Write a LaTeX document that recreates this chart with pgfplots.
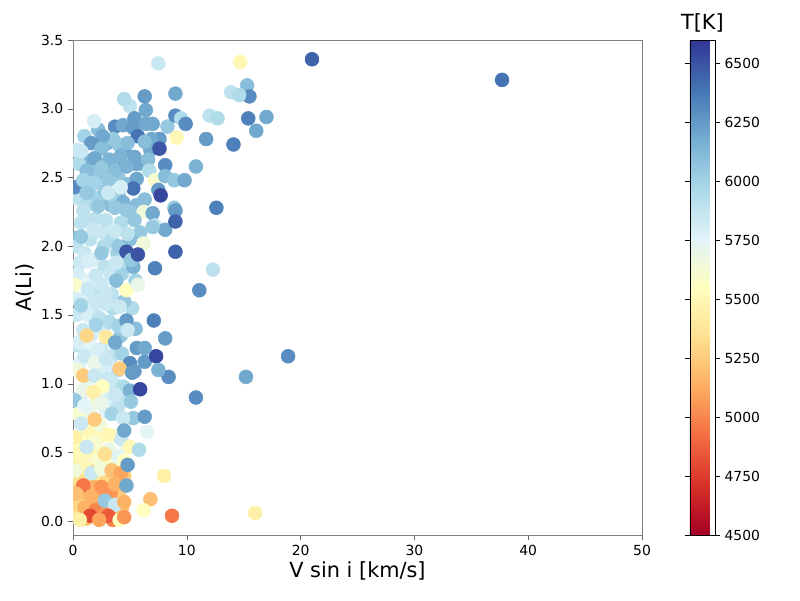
\documentclass[border=0pt]{standalone}
\usepackage{fontspec}
\setmainfont{DejaVu Sans}
\usepackage{pgfplots}
\pgfplotsset{compat=1.18}
\pgfplotsset{/pgf/number format/assume math mode=true}
\pgfplotstableread{
x y T
1.4 2.62 6150
2.9 2.52 6100
3.9 2.62 6200
4.5 2.70 6250
2.4 2.35 6000
3.3 2.30 6100
4.0 2.38 6050
1.7 2.36 6000
0.6 2.42 5950
2.7 2.00 5950
1.5 2.05 5900
3.9 1.95 6000
4.5 1.90 5950
0.6 1.88 5850
2.2 1.65 5900
3.5 1.55 5950
1.0 1.62 5800
0.2 1.62 5800
1.8 1.52 5850
2.7 1.40 5800
3.4 1.20 5900
4.2 1.35 6050
0.2 1.28 5900
1.6 1.35 5800
0.6 1.15 5750
2.3 1.15 5700
3.2 0.96 5700
4.0 1.10 5950
0.6 0.90 5800
2.1 0.88 5650
3.0 0.88 5800
4.6 0.88 5900
1.5 0.80 5700
2.6 0.62 5500
3.6 0.62 5600
0.9 0.62 5650
4.6 0.56 5700
0.2 0.52 5500
1.6 0.65 5500
3.0 0.42 5500
2.0 0.55 5600
0.7 0.40 5450
1.3 0.45 5700
4.0 0.30 5300
3.2 0.28 5250
2.6 0.12 5100
1.3 0.30 5100
0.2 0.30 5300
0.9 0.16 5250
1.8 0.12 5100
3.2 0.12 5150
4.2 0.24 5200
0.1 0.07 5400
1.2 0.02 5200
3.5 0.01 5000
2.0 0.38 5300
2.8 0.30 5150
4.5 0.33 5250
5.2 1.55 5950
5.5 1.75 6000
5.9 2.10 6050
5.6 2.30 6100
6.0 2.60 6150
6.8 2.70 6200
0.3 2.70 5850
1.0 2.80 6000
2.2 2.85 6100
3.0 2.75 6150
2.0 2.55 6050
3.3 2.60 6100
4.0 2.50 6050
4.8 2.45 6100
5.5 2.60 6200
0.5 2.60 5950
1.5 2.45 6000
2.8 2.40 6050
3.6 2.35 6000
4.4 2.32 6150
5.0 2.25 6050
0.3 2.35 5900
1.2 2.30 5950
2.0 2.20 5900
2.6 2.10 5850
3.4 2.05 5950
4.0 2.00 6050
5.0 2.05 6100
0.1 2.06 6150
0.3 2.00 5900
1.0 1.95 5850
1.8 1.90 5800
2.8 1.85 5900
3.3 1.80 5850
4.3 1.80 6000
5.3 1.85 6150
0.4 1.80 5800
1.3 1.75 5750
2.5 1.72 5850
3.4 1.65 5900
4.5 1.60 6050
0.3 1.50 5850
1.3 1.50 5800
2.3 1.48 5900
3.2 1.45 5950
4.0 1.42 6000
5.5 1.40 6100
0.5 1.30 5800
1.5 1.28 5750
2.5 1.25 5850
3.0 1.15 5800
4.3 1.22 6000
0.3 1.10 5650
1.3 1.02 5700
2.5 1.08 5800
3.6 1.00 5850
4.4 0.98 5950
5.0 0.95 6150
0.4 0.78 5600
1.2 0.68 5500
2.4 0.70 5650
2.9 0.80 5750
3.9 0.82 5900
4.2 0.60 5850
5.3 0.75 6050
0.6 0.58 5550
1.5 0.50 5500
2.2 0.45 5600
3.2 0.52 5700
3.7 0.42 5600
0.3 0.45 5450
1.0 0.40 5500
2.0 0.30 5400
3.0 0.30 5300
4.0 0.20 5250
0.6 0.30 5350
1.2 0.22 5200
2.2 0.18 5100
3.3 0.20 5050
0.4 0.12 5300
1.0 0.10 5150
2.0 0.08 5000
2.8 0.05 5050
3.6 0.06 5100
4.3 0.10 5200
1.8 0.25 5150
5.0 3.02 5900
6.4 2.99 6200
5.4 2.93 6250
7.0 2.89 6200
1.85 2.91 5800
3.7 2.87 6300
4.4 2.88 6200
5.3 2.86 6250
6.4 2.89 6200
8.3 2.87 6050
7.6 2.78 6250
6.9 2.78 6200
5.7 2.80 6400
3.5 2.78 6050
2.6 2.80 6200
1.6 2.75 6250
0.73 2.69 5850
2.5 2.71 6100
4.0 2.74 6050
4.8 2.75 6100
6.3 2.76 6100
8.1 2.59 6300
1.9 2.64 6200
3.2 2.63 6150
4.2 2.66 6150
5.4 2.65 6200
6.6 2.63 6100
1.2 2.55 6100
0.15 2.43 6300
2.5 2.57 6050
3.7 2.55 6100
4.7 2.58 6150
5.6 2.49 6200
6.7 2.55 5950
7.2 2.48 5600
8.1 2.51 6100
8.9 2.48 6050
8.9 2.28 6050
7.5 2.41 6250
6.3 2.34 6100
6.2 2.25 5650
7.0 2.24 6200
5.3 2.42 6400
4.2 2.43 5800
3.1 2.48 6050
1.9 2.46 6000
0.9 2.48 6000
1.2 2.39 6050
3.1 2.39 5850
2.2 2.29 6050
3.7 2.28 6050
4.7 2.26 6050
0.9 2.26 5900
1.6 2.19 5900
2.9 2.19 5900
4.2 2.17 5950
5.4 2.19 6050
7.2 2.15 5850
0.7 2.17 5900
8.1 2.12 6200
7.0 2.14 6050
0.7 2.07 6050
1.8 2.12 5850
3.7 2.11 5850
4.8 2.09 5900
6.2 2.02 5650
4.7 1.96 6500
2.5 1.95 6050
1.3 1.89 5800
3.8 1.88 5850
5.1 1.90 6050
2.0 1.79 5850
3.8 1.75 6100
4.7 1.68 5550
5.7 1.72 5700
0.15 1.72 5600
1.3 1.69 5850
2.9 1.66 5850
0.7 1.57 6000
1.9 1.60 5850
2.9 1.58 5850
4.1 1.56 5850
4.7 1.46 6250
4.8 1.39 5850
2.0 1.43 6000
0.9 1.39 5850
1.2 1.35 5300
2.9 1.34 5400
3.7 1.30 6200
5.6 1.26 6250
5.0 1.15 6300
6.3 1.16 6250
4.1 1.11 5250
1.0 1.20 5850
2.2 1.24 5800
1.9 1.15 5700
2.9 1.18 5850
5.4 1.09 6250
0.9 1.06 5250
1.9 1.06 5850
3.1 1.04 5850
0.9 0.95 5700
2.6 0.98 5550
1.8 0.94 5450
3.7 0.92 5850
5.1 0.87 6050
0.15 0.88 6050
1.0 0.84 5750
2.5 0.86 5700
1.9 0.74 5250
3.4 0.78 6000
4.4 0.75 5850
0.7 0.71 5850
3.1 0.63 5500
4.5 0.66 6200
0.15 0.61 5450
1.9 0.58 5600
2.8 0.49 5350
4.0 0.47 5750
5.0 0.54 5500
0.45 0.49 5500
1.2 0.54 5850
4.5 0.44 5550
0.15 0.37 5650
1.6 0.35 5850
2.5 0.38 5650
3.4 0.37 5200
4.2 0.35 5100
4.8 0.41 6250
0.9 0.26 4950
2.5 0.25 5050
3.7 0.27 5150
4.7 0.26 6200
0.3 0.20 5200
1.6 0.18 5150
2.8 0.15 6050
3.7 0.12 5850
4.5 0.14 5150
1.5 0.04 4800
3.1 0.04 4850
4.1 0.01 5550
4.5 0.03 5050
0.6 0.01 5450
2.3 0.01 5100
21.0 3.36 6450
37.7 3.21 6400
14.7 3.34 5500
7.5 3.33 5850
15.3 3.17 6100
15.5 3.09 6300
13.9 3.12 5900
14.6 3.10 5950
9.0 3.11 6200
6.3 3.09 6250
4.5 3.07 5950
12.0 2.95 5900
12.7 2.93 5950
15.4 2.93 6350
17.0 2.94 6200
16.1 2.84 6200
9.0 2.95 6300
9.5 2.93 5950
9.9 2.89 6300
11.7 2.78 6250
14.1 2.74 6350
9.1 2.79 5500
7.6 2.71 6500
9.8 2.48 6200
10.8 2.58 6150
12.6 2.28 6350
9.0 2.26 6250
9.0 2.18 6450
7.7 2.37 6550
9.0 1.96 6450
12.3 1.83 5900
7.2 1.84 6350
11.1 1.68 6300
5.7 1.94 6500
7.1 1.46 6350
8.1 1.33 6250
7.3 1.20 6550
18.9 1.20 6300
6.3 1.26 6200
15.2 1.05 6200
8.4 1.05 6300
7.5 1.10 6150
5.9 0.96 6550
10.8 0.90 6300
6.3 0.76 6250
8.0 0.33 5450
6.8 0.16 5200
8.7 0.04 4950
16.0 0.06 5450
6.2 0.08 5550
6.5 0.65 5750
5.8 0.52 5950
5.2 1.08 6250
}\stars
\begin{document}
\begin{tikzpicture}[x=1pt,y=1pt]
\path[use as bounding box] (0,0) rectangle (576,432);
\begin{axis}[
  at={(52.56pt,46.8pt)}, anchor=south west,
  scale only axis, width=409.7pt, height=356.4pt,
  xmin=0, xmax=50, ymin=-0.1, ymax=3.5,
  xtick={0,10,...,50}, ytick={0,0.5,...,3.5},
  yticklabel style={/pgf/number format/.cd, fixed, fixed zerofill, precision=1},
  axis line style={gray}, tick style={gray!80!black}, tick align=outside,
  major tick length=3.5pt, tick pos=left,
  xlabel={V sin i [km/s]}, ylabel={A(Li)},
  label style={font=\fontsize{15}{18}\selectfont},
  xlabel style={yshift=2pt},
  ylabel style={yshift=-2pt},
  tick label style={font=\fontsize{10}{12}\selectfont},
  colormap={rdylbu}{rgb255=(165,0,38) rgb255=(215,48,39) rgb255=(244,109,67) rgb255=(253,174,97) rgb255=(254,224,144) rgb255=(255,255,191) rgb255=(224,243,248) rgb255=(171,217,233) rgb255=(116,173,209) rgb255=(69,117,180) rgb255=(49,54,149)},
  point meta min=4500, point meta max=6600,
  clip marker paths=true,
  colorbar,
  colorbar style={
    at={(parent axis.north east)}, anchor=north west, xshift=25.9pt,
    scale only axis, width=18pt, height=356.4pt,
    ytick={4500,4750,...,6500},
    yticklabel style={/pgf/number format/.cd, 1000 sep={}, fixed},
    tick label style={font=\fontsize{10}{12}\selectfont},
    tick style={black}, major tick length=3.5pt, tick align=outside,
    title={T[K]}, title style={font=\fontsize{15}{18}\selectfont, yshift=-4pt},
  },
]
\addplot[scatter, only marks, mark=*, mark size=5pt,
  scatter src=explicit,
  scatter/use mapped color={draw=mapped color, fill=mapped color}]
  table[x=x, y=y, meta=T] {\stars};
\end{axis}
\end{tikzpicture}
\end{document}
